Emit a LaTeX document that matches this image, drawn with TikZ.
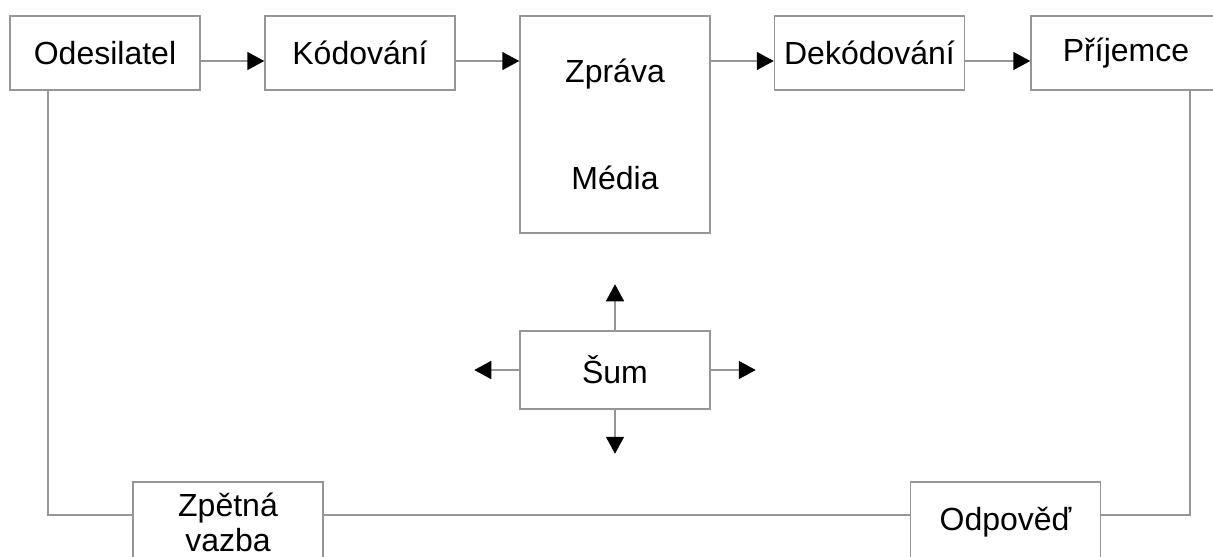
\documentclass[tikz,border=0pt]{standalone}
\usepackage{fontspec}
\setmainfont{Liberation Sans}
\usetikzlibrary{arrows.meta,calc,positioning}
\definecolor{linegray}{RGB}{150,150,150}
\tikzset{
  blok/.style={draw=linegray, line width=0.75pt, minimum width=95pt, minimum height=37pt,
               inner sep=0pt, align=center, font=\fontsize{16}{17.5}\selectfont},
  link/.style={draw=linegray, line width=0.75pt},
  flow/.style={link, -{Triangle[length=8.5pt,width=9pt,color=black]}},
}

\begin{document}
\begin{tikzpicture}[x=0.5pt,y=-0.5pt]
  \useasboundingbox (0,0) rectangle (1213,556);
  \clip (0,0) rectangle (1213,556);

  % top row
  \node[blok] (ode) at (105,53) {Odesilatel};     % sender
  \node[blok] (kod) at (360,53) {Kódování};       % encoding
  \node[blok, minimum height=108.5pt] (zpr) at (615,124.5) {Zpráva\\[36pt]Média};
  \node[blok] (dek) at (869.5,53) {Dekódování};   % decoding
  \node[blok] (pri) at (1126,53) {Příjemce};      % receiver

  % noise in the middle
  \node[blok, minimum height=39pt] (sum) at (615,370) {Šum};

  % bottom row (cut by the lower edge)
  \node[blok, minimum height=40pt] (zpe) at (228,522) {Zpětná\\vazba};
  \node[blok, minimum height=40pt] (odp) at (1005.5,522) {Odpověď};

  % arrows along the top
  \draw[flow] ($(ode.east)+(0,8)$) -- ($(kod.west)+(0,8)$);
  \draw[flow] ($(kod.east)+(0,8)$) -- ($(kod.east -| zpr.west)+(0,8)$);
  \draw[flow] ($(dek.west -| zpr.east)+(0,8)$) -- ($(dek.west)+(0,8)$);
  \draw[flow] ($(dek.east)+(0,8)$) -- ($(pri.west)+(0,8)$);

  % feedback loop
  \coordinate (fbL) at (48,515);
  \coordinate (fbR) at (1190,515);
  \draw[link] (ode.south -| fbL) -- (fbL) -- (zpe.west |- fbL);
  \draw[link] (zpe.east |- fbL) -- (odp.west |- fbR);
  \draw[link] (odp.east |- fbR) -- (fbR) -- (pri.south -| fbR);

  % noise spreads out
  \coordinate[above=23pt of sum] (sU);
  \coordinate[below=22pt of sum] (sD);
  \coordinate[left=22.5pt of sum] (sL);
  \coordinate[right=22.5pt of sum] (sR);
  \draw[flow] (sum) -- (sU);
  \draw[flow] (sum) -- (sD);
  \draw[flow] (sum) -- (sL);
  \draw[flow] (sum) -- (sR);
\end{tikzpicture}
\end{document}
